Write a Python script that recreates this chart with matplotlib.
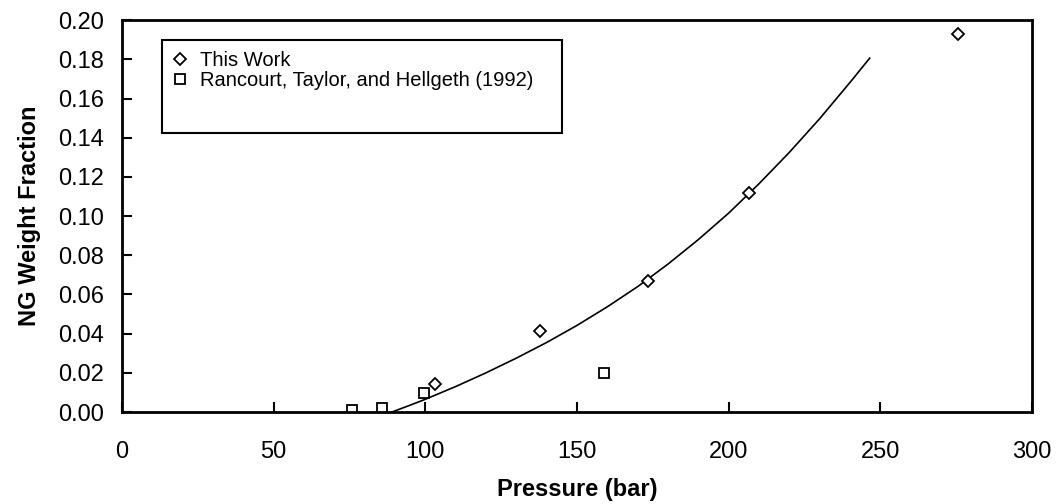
import matplotlib
matplotlib.use("Agg")
import matplotlib.pyplot as plt
from matplotlib.patches import Rectangle

plt.rcParams['font.family'] = ['Liberation Sans', 'DejaVu Sans']

# This Work (diamonds)
this_p = [103.2, 137.9, 173.3, 206.8, 275.7]
this_w = [0.0142, 0.0413, 0.0667, 0.112, 0.193]

# Rancourt, Taylor, and Hellgeth (1992) (squares)
ranc_p = [75.9, 85.8, 99.7, 159.0]
ranc_w = [0.001, 0.002, 0.0099, 0.020]

# model curve
curve_p = [89, 95, 100, 110, 120, 130, 140, 150, 160, 170, 180, 190, 200, 210, 220, 230, 240, 246.5]
curve_w = [0.0, 0.0035, 0.0065, 0.0130, 0.0200, 0.0275, 0.0355, 0.0442, 0.0537, 0.0640,
           0.0755, 0.0880, 0.1015, 0.1165, 0.1325, 0.1497, 0.1682, 0.1806]

xticks = [0, 50, 100, 150, 200, 250, 300]
yticks = [0.00, 0.02, 0.04, 0.06, 0.08, 0.10, 0.12, 0.14, 0.16, 0.18, 0.20]

fig = plt.figure(figsize=(10.58, 5.04), dpi=100)
ax = fig.add_axes([0.1153, 0.1825, 0.8601, 0.7775])

ax.plot(curve_p, curve_w, color='black', lw=1.2)
ax.plot(this_p, this_w, 'D', mfc='white', mec='black', mew=1.3, ms=6,
        ls='none', label='This Work')
ax.plot(ranc_p, ranc_w, 's', mfc='white', mec='black', mew=1.3, ms=7,
        ls='none', label='Rancourt, Taylor, and Hellgeth (1992)')

ax.set_xlim(0, 300)
ax.set_ylim(0, 0.20)
ax.set_xticks(xticks)
ax.set_yticks(yticks)
ax.set_xticklabels([str(t) for t in xticks])
ax.set_yticklabels(['%.2f' % t for t in yticks])

for s in ax.spines.values():
    s.set_linewidth(2.0)
ax.tick_params(axis='both', direction='in', length=7, width=1.5, labelsize=17)
ax.tick_params(axis='x', pad=21)
ax.tick_params(axis='y', pad=13)

ax.set_xlabel('Pressure (bar)', fontsize=17, fontweight='bold', labelpad=11)
ax.set_ylabel('NG Weight Fraction', fontsize=17, fontweight='bold', labelpad=12)

# legend box with extra room at the bottom
ax.add_patch(Rectangle((0.044, 0.712), 0.44, 0.237, transform=ax.transAxes,
                       fill=False, ec='black', lw=1.5, zorder=5))
ax.legend(loc='upper left', bbox_to_anchor=(0.055, 0.922), frameon=False,
          fontsize=14.5, handlelength=0.8, handletextpad=0.6, labelspacing=0.05,
          borderpad=0, borderaxespad=0)

fig.savefig('out.png', dpi=100)
